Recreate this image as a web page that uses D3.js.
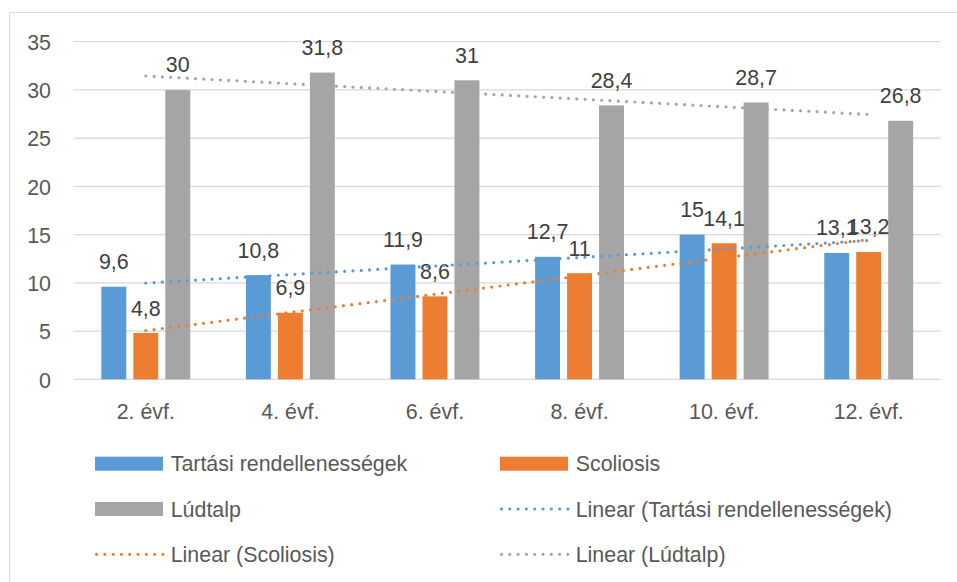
<!DOCTYPE html>
<html>
<head>
<meta charset="utf-8">
<script src="https://cdn.jsdelivr.net/npm/d3@7"></script>
<style>
  html, body { margin: 0; padding: 0; background: #fff; }
  svg { display: block; }
  text { font-family: "Liberation Sans", Arial, sans-serif; }
</style>
</head>
<body>
<svg id="chart" width="957" height="582"></svg>
<script>
const categories = ["2. évf.", "4. évf.", "6. évf.", "8. évf.", "10. évf.", "12. évf."];
const seriesNames = ["Tartási rendellenességek", "Scoliosis", "Lúdtalp"];
const tartasi = [9.6, 10.8, 11.9, 12.7, 15, 13.1];
const scoliosis = [4.8, 6.9, 8.6, 11, 14.1, 13.2];
const ludtalp = [30, 31.8, 31, 28.4, 28.7, 26.8];
const seriesValues = [tartasi, scoliosis, ludtalp];
const colors = ["#5B9BD5", "#ED7D31", "#A5A5A5"];
const yTicks = [0, 5, 10, 15, 20, 25, 30, 35];
const fmt = v => String(v).replace(".", ",");
const FS = 21.4;

const svg = d3.select("#chart");

// chart area border (only left/top visible in frame)
svg.append("rect")
  .attr("x", 9.5).attr("y", 12.5)
  .attr("width", 1000).attr("height", 1000)
  .attr("fill", "none").attr("stroke", "#d9d9d9").attr("stroke-width", 1);

const plot = { left: 73.5, right: 941, top: 41.7, bottom: 379.3 };

const x0 = d3.scaleBand().domain(categories).range([plot.left, plot.right])
  .paddingInner(0.385).paddingOuter(0.1925);
const x1 = d3.scaleBand().domain(seriesNames).range([0, x0.bandwidth()])
  .paddingInner(0.22).paddingOuter(0);
const y = d3.scaleLinear().domain([0, 35]).range([plot.bottom, plot.top]);

// gridlines
svg.append("g").selectAll("line").data(yTicks).join("line")
  .attr("x1", plot.left).attr("x2", plot.right)
  .attr("y1", d => y(d)).attr("y2", d => y(d))
  .attr("stroke", "#d9d9d9").attr("stroke-width", 1.3);

// y axis labels
const yAxis = d3.axisLeft(y).tickValues(yTicks).tickSize(0).tickPadding(0);
const yg = svg.append("g").attr("transform", `translate(51,0)`).call(yAxis);
yg.select(".domain").remove();
yg.selectAll("text").attr("font-size", FS).attr("fill", "#595959")
  .attr("dy", "0.36em").attr("font-family", "Liberation Sans, Arial, sans-serif");

// x axis labels
const xAxis = d3.axisBottom(x0).tickSize(0).tickPadding(0);
const xg = svg.append("g").attr("transform", `translate(0,${plot.bottom})`).call(xAxis);
xg.select(".domain").remove();
xg.selectAll("text").attr("font-size", FS).attr("fill", "#595959")
  .attr("y", 39.7).attr("dy", 0).attr("font-family", "Liberation Sans, Arial, sans-serif");

// bars
const groups = svg.append("g").selectAll("g").data(categories).join("g")
  .attr("transform", d => `translate(${x0(d)},0)`);
groups.selectAll("rect").data((c, i) => seriesNames.map((s, j) => ({ s, j, v: seriesValues[j][i] })))
  .join("rect")
  .attr("x", d => x1(d.s)).attr("width", x1.bandwidth())
  .attr("y", d => y(d.v)).attr("height", d => y(0) - y(d.v))
  .attr("fill", d => colors[d.j]);

// trend lines (least squares linear, like Excel)
function linreg(vals) {
  const xs = vals.map((_, i) => i + 1);
  const mx = d3.mean(xs), my = d3.mean(vals);
  let sxy = 0, sxx = 0;
  xs.forEach((xv, i) => { sxy += (xv - mx) * (vals[i] - my); sxx += (xv - mx) ** 2; });
  const b = sxy / sxx, a = my - b * mx;
  return xv => a + b * xv;
}
const center = c => x0(c) + x0.bandwidth() / 2;
seriesValues.forEach((vals, j) => {
  const f = linreg(vals);
  const first = categories[0], last = categories[categories.length - 1];
  svg.append("line")
    .attr("x1", center(first)).attr("y1", y(f(1)))
    .attr("x2", center(last)).attr("y2", y(f(vals.length)))
    .attr("stroke", colors[j]).attr("stroke-width", 3.2)
    .attr("stroke-linecap", "round").attr("stroke-dasharray", "0 8.3");
});

// data labels
groups.selectAll("text.lbl").data((c, i) => seriesNames.map((s, j) => ({ s, j, v: seriesValues[j][i] })))
  .join("text").attr("class", "lbl")
  .attr("x", d => x1(d.s) + x1.bandwidth() / 2)
  .attr("y", d => y(d.v) - 17.5)
  .attr("text-anchor", "middle").attr("font-size", FS).attr("fill", "#404040")
  .text(d => fmt(d.v));

// legend
const legendItems = [
  { label: "Tartási rendellenességek", type: "rect", color: colors[0], col: 0, row: 0 },
  { label: "Scoliosis", type: "rect", color: colors[1], col: 1, row: 0 },
  { label: "Lúdtalp", type: "rect", color: colors[2], col: 0, row: 1 },
  { label: "Linear (Tartási rendellenességek)", type: "line", color: colors[0], col: 1, row: 1 },
  { label: "Linear (Scoliosis)", type: "line", color: colors[1], col: 0, row: 2 },
  { label: "Linear (Lúdtalp)", type: "line", color: colors[2], col: 1, row: 2 }
];
const colX = [95, 500];
const rowY = [463.7, 509, 554.3];
const lg = svg.append("g").selectAll("g").data(legendItems).join("g")
  .attr("transform", d => `translate(${colX[d.col]},${rowY[d.row]})`);
lg.filter(d => d.type === "rect").append("rect")
  .attr("x", 0).attr("y", -7).attr("width", 68).attr("height", 14)
  .attr("fill", d => d.color);
lg.filter(d => d.type === "line").append("line")
  .attr("x1", 1.5).attr("x2", 68).attr("y1", 0).attr("y2", 0)
  .attr("stroke", d => d.color).attr("stroke-width", 3.2)
  .attr("stroke-linecap", "round").attr("stroke-dasharray", "0 8.3");
lg.append("text")
  .attr("x", 75.7).attr("y", 7.7)
  .attr("font-size", FS).attr("fill", "#595959")
  .text(d => d.label);
</script>
</body>
</html>
